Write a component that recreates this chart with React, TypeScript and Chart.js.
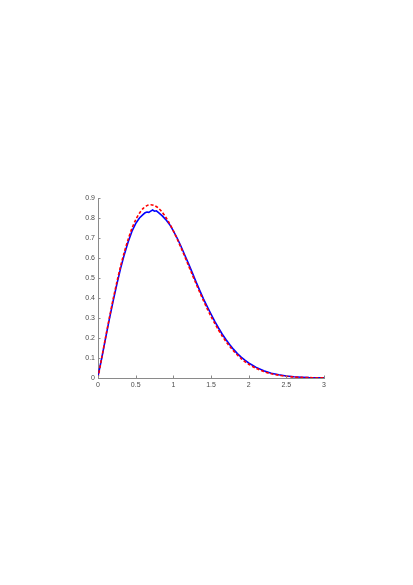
import React, { useEffect, useRef } from "react";
import { Chart, registerables } from "chart.js";

Chart.register(...registerables);

const xTicks = [0, 0.5, 1, 1.5, 2, 2.5, 3];
const yTicks = [0, 0.1, 0.2, 0.3, 0.4, 0.5, 0.6, 0.7, 0.8, 0.9];

const theoryX = [0, 0.05, 0.1, 0.15, 0.2, 0.25, 0.3, 0.35, 0.4, 0.45, 0.5, 0.55, 0.6, 0.65, 0.7, 0.75, 0.8, 0.85, 0.9, 0.95, 1.0, 1.05, 1.1, 1.15, 1.2, 1.25, 1.3, 1.35, 1.4, 1.45, 1.5, 1.55, 1.6, 1.65, 1.7, 1.75, 1.8, 1.85, 1.9, 1.95, 2.0, 2.1, 2.2, 2.3, 2.4, 2.5, 2.6, 2.7, 2.8, 2.9, 3.0];
const theoryY = [0, 0.102, 0.202, 0.299, 0.392, 0.479, 0.559, 0.63, 0.693, 0.747, 0.791, 0.824, 0.848, 0.862, 0.866, 0.862, 0.85, 0.83, 0.804, 0.772, 0.736, 0.696, 0.653, 0.609, 0.563, 0.518, 0.473, 0.429, 0.387, 0.346, 0.308, 0.273, 0.24, 0.209, 0.182, 0.157, 0.135, 0.115, 0.097, 0.082, 0.069, 0.048, 0.032, 0.021, 0.014, 0.009, 0.005, 0.003, 0.002, 0.001, 0.0006];

const empiricalX = [0, 0.05, 0.1, 0.15, 0.2, 0.25, 0.3, 0.35, 0.4, 0.45, 0.5, 0.55, 0.6, 0.625, 0.65, 0.675, 0.7, 0.725, 0.75, 0.775, 0.8, 0.85, 0.9, 0.95, 1.0, 1.05, 1.1, 1.15, 1.2, 1.25, 1.3, 1.35, 1.4, 1.45, 1.5, 1.55, 1.6, 1.65, 1.7, 1.75, 1.8, 1.85, 1.9, 1.95, 2.0, 2.1, 2.2, 2.3, 2.4, 2.5, 2.6, 2.7, 2.8, 2.9, 3.0];
const empiricalY = [0.01, 0.1, 0.198, 0.293, 0.383, 0.468, 0.548, 0.618, 0.68, 0.733, 0.772, 0.8, 0.818, 0.826, 0.83, 0.828, 0.834, 0.84, 0.834, 0.836, 0.828, 0.812, 0.792, 0.768, 0.736, 0.7, 0.66, 0.616, 0.573, 0.528, 0.482, 0.438, 0.396, 0.357, 0.32, 0.283, 0.25, 0.219, 0.191, 0.166, 0.143, 0.122, 0.104, 0.089, 0.075, 0.053, 0.036, 0.024, 0.016, 0.01, 0.006, 0.004, 0.002, 0.001, 0.0005];

const axisColor = "#8a8a8a";
const labelColor = "#4a4a4a";

const inwardTicks = {
  id: "inwardTicks",
  afterDraw(chart: any) {
    const { ctx, chartArea, scales } = chart;
    ctx.save();
    ctx.strokeStyle = axisColor;
    ctx.lineWidth = 1;
    const len = 2.5;
    for (const v of xTicks) {
      const px = Math.round(scales.x.getPixelForValue(v)) + 0.5;
      ctx.beginPath();
      ctx.moveTo(px, chartArea.bottom);
      ctx.lineTo(px, chartArea.bottom - len);
      ctx.stroke();
    }
    for (const v of yTicks) {
      const py = Math.round(scales.y.getPixelForValue(v)) + 0.5;
      ctx.beginPath();
      ctx.moveTo(chartArea.left, py);
      ctx.lineTo(chartArea.left + len, py);
      ctx.stroke();
    }
    ctx.restore();
  },
};

export default function App() {
  const ref = useRef<HTMLCanvasElement>(null);
  useEffect(() => {
    if (!ref.current) return;
    const chart = new Chart(ref.current, {
      type: "line",
      data: {
        datasets: [
          {
            label: "theory",
            data: theoryX.map((x, i) => ({ x, y: theoryY[i] })),
            borderColor: "#ff0000",
            borderWidth: 1.6,
            borderDash: [3, 2],
            pointRadius: 0,
            tension: 0.3,
            fill: false,
          },
          {
            label: "empirical",
            data: empiricalX.map((x, i) => ({ x, y: empiricalY[i] })),
            borderColor: "#0000ff",
            borderWidth: 1.6,
            pointRadius: 0,
            tension: 0,
            fill: false,
          },
        ],
      },
      options: {
        animation: false,
        responsive: false,
        maintainAspectRatio: false,
        layout: { padding: { left: 70, right: 89, top: 198, bottom: 192 } },
        plugins: { legend: { display: false }, tooltip: { enabled: false } },
        scales: {
          x: {
            type: "linear",
            min: 0,
            max: 3,
            afterFit: (s: any) => { s.height = 15; },
            afterBuildTicks: (s: any) => { s.ticks = xTicks.map((v) => ({ value: v })); },
            grid: { display: true, drawOnChartArea: false, drawTicks: false, color: axisColor },
            border: { display: true, color: axisColor, width: 1 },
            ticks: {
              color: labelColor,
              font: { family: "Liberation Sans, Arial, sans-serif", size: 7 },
              padding: 3,
              maxRotation: 0,
              autoSkip: false,
              callback: (v: any) => String(v),
            },
          },
          y: {
            type: "linear",
            min: 0,
            max: 0.9,
            afterFit: (s: any) => { s.width = 28; },
            afterBuildTicks: (s: any) => { s.ticks = yTicks.map((v) => ({ value: v })); },
            grid: { display: true, drawOnChartArea: false, drawTicks: false, color: axisColor },
            border: { display: true, color: axisColor, width: 1 },
            ticks: {
              color: labelColor,
              font: { family: "Liberation Sans, Arial, sans-serif", size: 7 },
              padding: 3,
              autoSkip: false,
              callback: (v: any) => String(Math.round(v * 10) / 10),
            },
          },
        },
      },
      plugins: [inwardTicks],
    });
    return () => chart.destroy();
  }, []);
  return (
    <canvas
      ref={ref}
      width={413}
      height={585}
      style={{ position: "fixed", left: 0, top: 0, width: 413, height: 585, background: "#fff" }}
    />
  );
}
